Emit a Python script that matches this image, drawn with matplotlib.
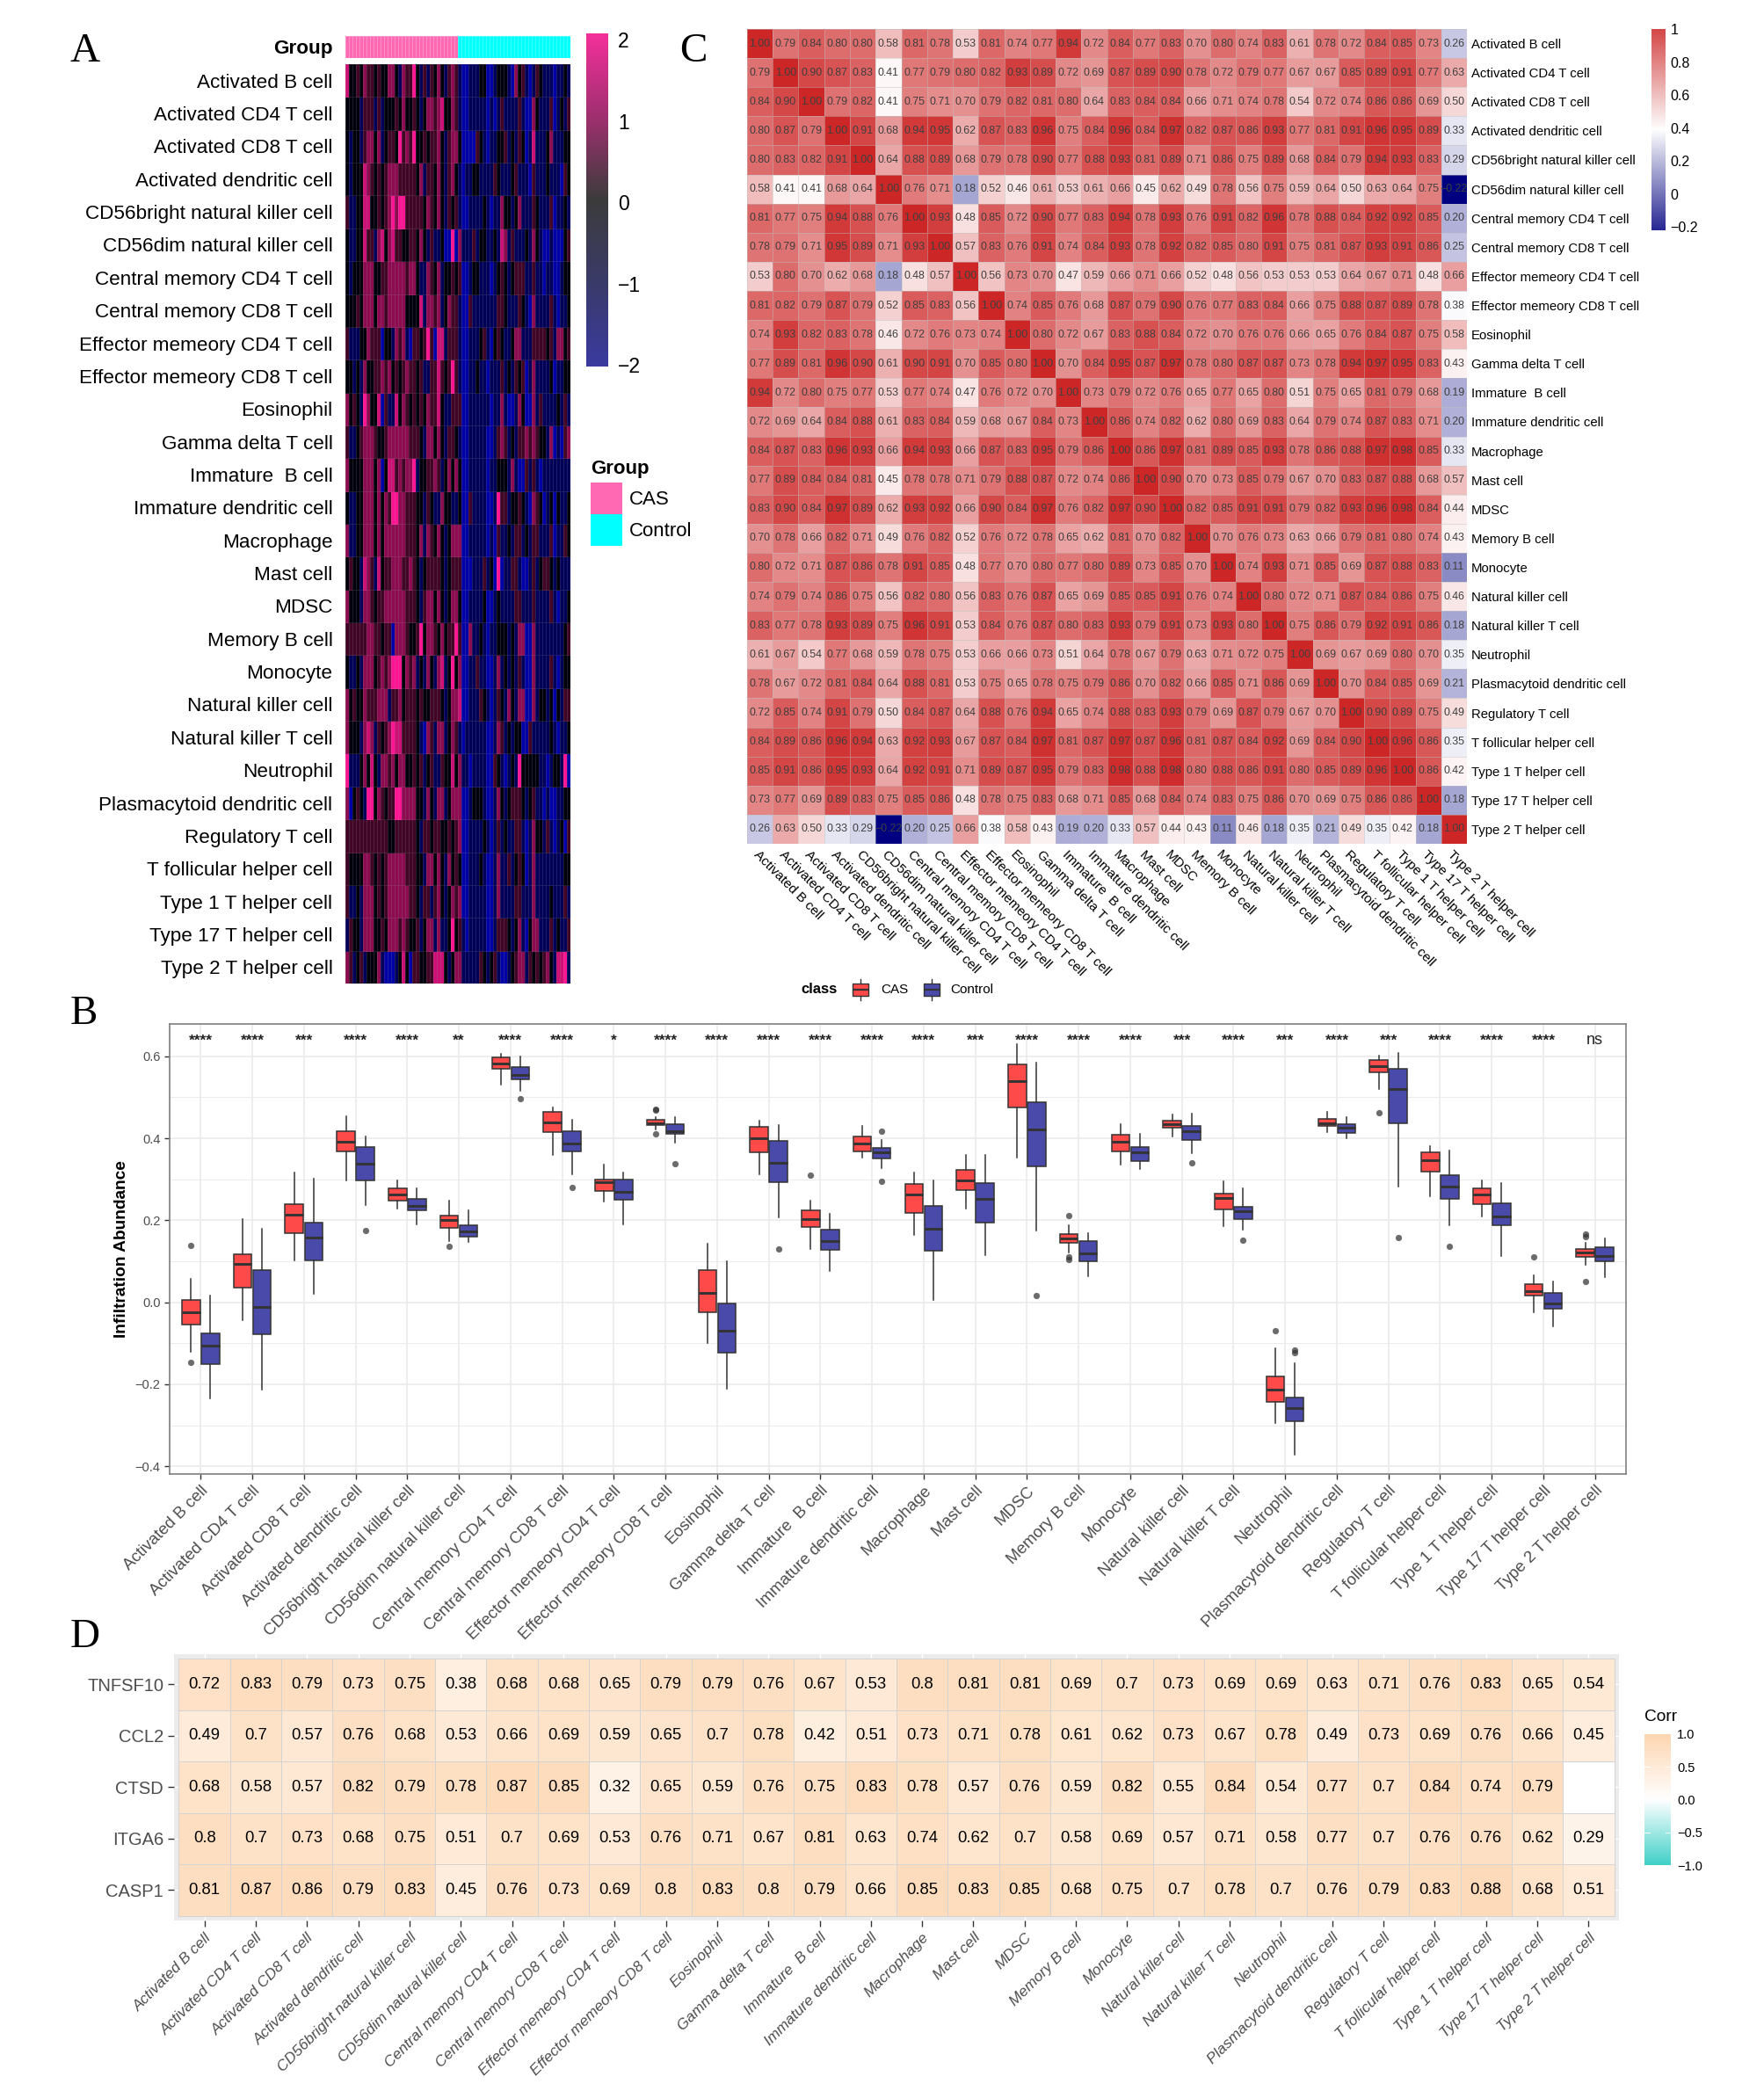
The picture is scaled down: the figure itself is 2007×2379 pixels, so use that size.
import numpy as np
import matplotlib
matplotlib.use("Agg")
import matplotlib.pyplot as plt
from matplotlib.colors import LinearSegmentedColormap, TwoSlopeNorm, Normalize
from matplotlib.patches import Rectangle

W, H = 2008, 2379
plt.rcParams['font.family'] = ['Liberation Sans', 'DejaVu Sans']
fig = plt.figure(figsize=(W / 100, H / 100), dpi=100, facecolor='white')


def ax_px(x0, y0, x1, y1, **kw):
    return fig.add_axes([x0 / W, 1 - y1 / H, (x1 - x0) / W, (y1 - y0) / H], **kw)


CELLS = ["Activated B cell", "Activated CD4 T cell", "Activated CD8 T cell", "Activated dendritic cell",
         "CD56bright natural killer cell", "CD56dim natural killer cell", "Central memory CD4 T cell",
         "Central memory CD8 T cell", "Effector memeory CD4 T cell", "Effector memeory CD8 T cell",
         "Eosinophil", "Gamma delta T cell", "Immature  B cell", "Immature dendritic cell", "Macrophage",
         "Mast cell", "MDSC", "Memory B cell", "Monocyte", "Natural killer cell", "Natural killer T cell",
         "Neutrophil", "Plasmacytoid dendritic cell", "Regulatory T cell", "T follicular helper cell",
         "Type 1 T helper cell", "Type 17 T helper cell", "Type 2 T helper cell"]

# ---------- Panel A: z-scores per sample, read as seven colour levels ----------
LEVELS = {'b': -1.3, 'n': -0.7, 'k': -0.1, 'd': 0.5, 'm': 1.1, 'p': 1.6, 'h': 2.0}
HEAT_CAS = ["pkkdkmdd kdkkmmkn mddhkndn dkmkndmd", "kkkknddd ndnkkkdk mkkdknkm mdmpkkmd",
            "knkkndmm kmnkddkh dmdhkkdk ddmkndmm", "knkkkpmd kdkdmmmd ddddkmnd dkmkndmk",
            "dnnkkppk kdkdmhmh hdddddkm dkmkndkd", "knnkkpdd nmpkmpdd kkddkmkn dnnkbbhb",
            "knkkkmmm kkddmmmm mdmmknnm dkmnkkdk", "kkkdkmmm kmmdmmmm mkkkkpnm mdmnkmdd",
            "dnnnkkmd ddbkknmd mnbddkdh dbppnddd", "kknknmkk ddmdmkdk dmddkdnn ddpdkdhd",
            "mkdknhmk kpbdnnpk mdkdkdkm ddpknndd", "dnnkdmmm dkkdmmmm mmdddknm mkmknddk",
            "mkkkkmmm kmbkppdm dmmhnkkd dmdnkmkm", "knnkkmmm kmkmdhhm mdddkknd knnmkknn",
            "mnnkkmmm kmkmmmmm mdddkmnm dkmknkmm", "kdkknpmd npkddmmm ddmdknkd dddknkdd",
            "mkkknmmd kddmmmmm mdddkndm mkmknkmm", "ddddddmm ddkddbmm mdkkdhkm mdkmkddh",
            "knnknmmm kdmdmhhh kmdmnknm knmpnkhk", "mkdkkmdd dmmmnddm kdddkdkk dddknkmm",
            "mkkknmpm ndkdmhpp ddddknbm dnmmnkmd", "hnnnkmkp knmmdmkm mkkdkdnk dnndkkpk",
            "mbkdknhh kmdkddhh mmmmkknm knmmnkmm", "dddddddd ddddkkdd ddddkndd kddkkdkd",
            "dkkkkmmd kdkdmmmm mdddkknm mkmknmkd", "dnnknmmm kdkdmmmm mmddkndd ndmknkmd",
            "ndkknmmm kkdkmmmd mdkkdnkm mnmnnkhk", "mdnkdnkk kmnbbbnk pkbddkkd dpppknkm"]
HEAT_CTRL = ["nbbnnnkk bbnkkknb mkdnbndk nnnbnnkn", "nbbnnnnn bnbndnnn ndnbbmkn nndbnknd",
             "kbbbbdkn bnnkkdnk ndkbnpnn nkmnnnkk", "nbnnkknn nndknnnk dnnnbdnn nknnnbdk",
             "nbbnnnnk nbnnmkkn kmnnndkn nndbnnkn", "mnnndnkk nnknpmnd nnnknmkn bbnbbbkd",
             "dbbnkknn nbnkdknk dddnndnn bnnbbnkk", "nbbdnnnn nnnddknn ndknbmnn nndnbnnk",
             "nbbnnnkd nbkdknnk mmnnnddd dkdnmmkd", "nbbnnknn bnnndnkn dkdbnmnn nnkbnnkk",
             "dbbnnnnn nbnnmnbb nmkbbmnd nnnnkndn", "nbbnnnnn bbndmdnk nddmdmdk knmbnbdm",
             "kbbnnnnn bnnkkknm nbbdndnb nnnnnnnn", "kbbdnnnn bbnhddnk kdknbmdk bnkbknnk",
             "mbbnnnnn bnbdnnkn ddnknddn nndbnndk", "dbbbnnnd nkbhbnnd dnbbndnk ddknknnn",
             "kbbnnnnk bbnknnnn ddnnndnn nndnbnnk", "dbbmnnkn bnnkkknk nmmbbmnn nnnnnnkd",
             "mbbnndnn bbnmnknk ndnbbmnn nndnbnkk", "pbbnnndk nbndknmk nmmbbmnk knkbkndd",
             "nbnnnnnn bbnmdnkn kkbbdnnn nnknbnnk", "mnnbnnnn bbdknbnk nhkkkkkn nbnkknhb",
             "mbbnkkkn bbnmknkd ddknkdnn bnbbnnkk", "mbbnnnnk nbndnknn ddnbnmkk ndnbnkbd",
             "kbbnnnkn bbnmnndn kdkbnmnn nnnnnnkk", "mbbnnnnn bbnmnnnn ddnnnmnn nnknnndn",
             "dnbnnnnn bbndddkn kmnbkmmn nndnknnd", "mnnnnndk nkdnbbnk dmmndkdk dmknpphn"]

heat = np.array([[LEVELS[c] for c in (a + b).replace(" ", "").ljust(64, 'k')[:64]]
                 for a, b in zip(HEAT_CAS, HEAT_CTRL)])
group_codes = [0] * 32 + [1] * 32

# ---------- Panel C ----------
CORR = [
 [1.00,.79,.84,.80,.80,.58,.81,.78,.53,.81,.74,.77,.94,.72,.84,.77,.83,.70,.80,.74,.83,.61,.78,.72,.84,.85,.73,.26],
 [.79,1.00,.90,.87,.83,.41,.77,.79,.80,.82,.93,.89,.72,.69,.87,.89,.90,.78,.72,.79,.77,.67,.67,.85,.89,.91,.77,.63],
 [.84,.90,1.00,.79,.82,.41,.75,.71,.70,.79,.82,.81,.80,.64,.83,.84,.84,.66,.71,.74,.78,.54,.72,.74,.86,.86,.69,.50],
 [.80,.87,.79,1.00,.91,.68,.94,.95,.62,.87,.83,.96,.75,.84,.96,.84,.97,.82,.87,.86,.93,.77,.81,.91,.96,.95,.89,.33],
 [.80,.83,.82,.91,1.00,.64,.88,.89,.68,.79,.78,.90,.77,.88,.93,.81,.89,.71,.86,.75,.89,.68,.84,.79,.94,.93,.83,.29],
 [.58,.41,.41,.68,.64,1.00,.76,.71,.18,.52,.46,.61,.53,.61,.66,.45,.62,.49,.78,.56,.75,.59,.64,.50,.63,.64,.75,-.22],
 [.81,.77,.75,.94,.88,.76,1.00,.93,.48,.85,.72,.90,.77,.83,.94,.78,.93,.76,.91,.82,.96,.78,.88,.84,.92,.92,.85,.20],
 [.78,.79,.71,.95,.89,.71,.93,1.00,.57,.83,.76,.91,.74,.84,.93,.78,.92,.82,.85,.80,.91,.75,.81,.87,.93,.91,.86,.25],
 [.53,.80,.70,.62,.68,.18,.48,.57,1.00,.56,.73,.70,.47,.59,.66,.71,.66,.52,.48,.56,.53,.53,.53,.64,.67,.71,.48,.66],
 [.81,.82,.79,.87,.79,.52,.85,.83,.56,1.00,.74,.85,.76,.68,.87,.79,.90,.76,.77,.83,.84,.66,.75,.88,.87,.89,.78,.38],
 [.74,.93,.82,.83,.78,.46,.72,.76,.73,.74,1.00,.80,.72,.67,.83,.88,.84,.72,.70,.76,.76,.66,.65,.76,.84,.87,.75,.58],
 [.77,.89,.81,.96,.90,.61,.90,.91,.70,.85,.80,1.00,.70,.84,.95,.87,.97,.78,.80,.87,.87,.73,.78,.94,.97,.95,.83,.43],
 [.94,.72,.80,.75,.77,.53,.77,.74,.47,.76,.72,.70,1.00,.73,.79,.72,.76,.65,.77,.65,.80,.51,.75,.65,.81,.79,.68,.19],
 [.72,.69,.64,.84,.88,.61,.83,.84,.59,.68,.67,.84,.73,1.00,.86,.74,.82,.62,.80,.69,.83,.64,.79,.74,.87,.83,.71,.20],
 [.84,.87,.83,.96,.93,.66,.94,.93,.66,.87,.83,.95,.79,.86,1.00,.86,.97,.81,.89,.85,.93,.78,.86,.88,.97,.98,.85,.33],
 [.77,.89,.84,.84,.81,.45,.78,.78,.71,.79,.88,.87,.72,.74,.86,1.00,.90,.70,.73,.85,.79,.67,.70,.83,.87,.88,.68,.57],
 [.83,.90,.84,.97,.89,.62,.93,.92,.66,.90,.84,.97,.76,.82,.97,.90,1.00,.82,.85,.91,.91,.79,.82,.93,.96,.98,.84,.44],
 [.70,.78,.66,.82,.71,.49,.76,.82,.52,.76,.72,.78,.65,.62,.81,.70,.82,1.00,.70,.76,.73,.63,.66,.79,.81,.80,.74,.43],
 [.80,.72,.71,.87,.86,.78,.91,.85,.48,.77,.70,.80,.77,.80,.89,.73,.85,.70,1.00,.74,.93,.71,.85,.69,.87,.88,.83,.11],
 [.74,.79,.74,.86,.75,.56,.82,.80,.56,.83,.76,.87,.65,.69,.85,.85,.91,.76,.74,1.00,.80,.72,.71,.87,.84,.86,.75,.46],
 [.83,.77,.78,.93,.89,.75,.96,.91,.53,.84,.76,.87,.80,.83,.93,.79,.91,.73,.93,.80,1.00,.75,.86,.79,.92,.91,.86,.18],
 [.61,.67,.54,.77,.68,.59,.78,.75,.53,.66,.66,.73,.51,.64,.78,.67,.79,.63,.71,.72,.75,1.00,.69,.67,.69,.80,.70,.35],
 [.78,.67,.72,.81,.84,.64,.88,.81,.53,.75,.65,.78,.75,.79,.86,.70,.82,.66,.85,.71,.86,.69,1.00,.70,.84,.85,.69,.21],
 [.72,.85,.74,.91,.79,.50,.84,.87,.64,.88,.76,.94,.65,.74,.88,.83,.93,.79,.69,.87,.79,.67,.70,1.00,.90,.89,.75,.49],
 [.84,.89,.86,.96,.94,.63,.92,.93,.67,.87,.84,.97,.81,.87,.97,.87,.96,.81,.87,.84,.92,.69,.84,.90,1.00,.96,.86,.35],
 [.85,.91,.86,.95,.93,.64,.92,.91,.71,.89,.87,.95,.79,.83,.98,.88,.98,.80,.88,.86,.91,.80,.85,.89,.96,1.00,.86,.42],
 [.73,.77,.69,.89,.83,.75,.85,.86,.48,.78,.75,.83,.68,.71,.85,.68,.84,.74,.83,.75,.86,.70,.69,.75,.86,.86,1.00,.18],
 [.26,.63,.50,.33,.29,-.22,.20,.25,.66,.38,.58,.43,.19,.20,.33,.57,.44,.43,.11,.46,.18,.35,.21,.49,.35,.42,.18,1.00]]

# ---------- Panel B: low, q1, median, q3, high ----------
BOX_CAS = [[-.120,-.054,-.025,.006,.058],[-.044,.036,.093,.118,.202],[.103,.169,.213,.239,.316],[.298,.368,.391,.417,.454],
           [.229,.248,.263,.277,.298],[.150,.182,.201,.212,.248],[.531,.570,.583,.597,.607],[.360,.415,.439,.464,.476],
           [.245,.272,.294,.300,.336],[.422,.433,.437,.446,.452],[-.099,-.024,.022,.079,.143],[.312,.367,.400,.428,.444],
           [.129,.183,.202,.224,.248],[.353,.368,.388,.405,.431],[.165,.218,.263,.289,.317],[.229,.274,.298,.323,.359],
           [.354,.475,.540,.581,.630],[.122,.144,.156,.167,.187],[.336,.369,.392,.409,.434],[.404,.425,.435,.444,.459],
           [.185,.227,.254,.266,.296],[-.295,-.244,-.214,-.182,-.112],[.415,.430,.437,.447,.464],[.521,.561,.577,.591,.602],
           [.258,.318,.346,.366,.380],[.209,.239,.263,.279,.298],[-.024,.016,.028,.045,.065],[.091,.111,.121,.130,.146]]
BOX_CTRL = [[-.234,-.150,-.106,-.075,.017],[-.214,-.078,-.011,.078,.180],[.020,.102,.158,.195,.301],[.238,.298,.337,.379,.405],
            [.190,.224,.235,.252,.278],[.147,.160,.174,.187,.224],[.516,.543,.555,.573,.600],[.312,.368,.387,.418,.446],
            [.190,.251,.269,.299,.317],[.390,.411,.418,.435,.452],[-.212,-.124,-.070,-.004,.101],[.208,.292,.340,.393,.432],
            [.076,.128,.150,.178,.215],[.328,.350,.365,.377,.396],[.005,.126,.179,.235,.298],[.114,.195,.252,.291,.359],
            [.176,.332,.422,.489,.584],[.064,.101,.120,.150,.168],[.326,.345,.365,.378,.411],[.363,.397,.417,.431,.460],
            [.178,.204,.223,.234,.277],[-.371,-.291,-.259,-.233,-.149],[.401,.414,.425,.434,.452],[.283,.436,.521,.570,.609],
            [.188,.252,.283,.310,.371],[.112,.187,.210,.242,.291],[-.059,-.015,-.004,.023,.050],[.062,.100,.112,.135,.156]]
OUT_CAS = {0: [.139, -.147], 5: [.136], 9: [.468, .471, .411], 12: [.311], 17: [.212, .110, .104], 21: [-.070],
           23: [.462], 26: [.110], 27: [.167, .161, .050]}
OUT_CTRL = {3: [.175], 6: [.496], 7: [.280], 9: [.337], 11: [.131], 13: [.417, .296], 16: [.017], 19: [.341],
            20: [.151], 21: [-.116, -.123], 23: [.158], 24: [.137]}
SIG = ["****", "****", "***", "****", "****", "**", "****", "****", "*", "****", "****", "****", "****", "****",
       "****", "***", "****", "****", "****", "***", "****", "***", "****", "***", "****", "****", "****", "ns"]

# ---------- Panel D ----------
GENES = ["TNFSF10", "CCL2", "CTSD", "ITGA6", "CASP1"]
TNFSF10 = [.72,.83,.79,.73,.75,.38,.68,.68,.65,.79,.79,.76,.67,.53,.8,.81,.81,.69,.7,.73,.69,.69,.63,.71,.76,.83,.65,.54]
CCL2 = [.49,.7,.57,.76,.68,.53,.66,.69,.59,.65,.7,.78,.42,.51,.73,.71,.78,.61,.62,.73,.67,.78,.49,.73,.69,.76,.66,.45]
CTSD = [.68,.58,.57,.82,.79,.78,.87,.85,.32,.65,.59,.76,.75,.83,.78,.57,.76,.59,.82,.55,.84,.54,.77,.7,.84,.74,.79,np.nan]
ITGA6 = [.8,.7,.73,.68,.75,.51,.7,.69,.53,.76,.71,.67,.81,.63,.74,.62,.7,.58,.69,.57,.71,.58,.77,.7,.76,.76,.62,.29]
CASP1 = [.81,.87,.86,.79,.83,.45,.76,.73,.69,.8,.83,.8,.79,.66,.85,.83,.85,.68,.75,.7,.78,.7,.76,.79,.83,.88,.68,.51]

# ---------- draw panel A ----------
GREY30 = '#4D4D4D'
cm_a = LinearSegmentedColormap.from_list('a', ['#0000FF', '#000000', '#FF1493'])
ax = ax_px(393, 73, 649, 1119)
ax.pcolormesh(heat[::-1], cmap=cm_a, vmin=-2, vmax=2, edgecolors=(0.6, 0.6, 0.6, 0.2), linewidth=0.5)
ax.set_xticks([])
ax.set_yticks(np.arange(28) + .5, CELLS[::-1], fontsize=16.2, color='black')
ax.tick_params(axis='y', length=0, pad=10.5)
for s in ax.spines.values():
    s.set_visible(False)

ax = ax_px(393, 41, 649, 66)
ax.pcolormesh(np.array([group_codes]), cmap=LinearSegmentedColormap.from_list('g', ['#FF69B4', '#00FFFF']),
              edgecolors=(1, 1, 1, 0.25), linewidth=0.5)
ax.set_xticks([])
ax.set_yticks([.5], ['Group'], fontsize=16.2, fontweight='bold')
ax.tick_params(axis='y', length=0, pad=10.5)
for s in ax.spines.values():
    s.set_visible(False)

cax = ax_px(667, 38, 692, 417)
cm_a2 = LinearSegmentedColormap.from_list('a2', ['#3A3AA0', '#3A3A6A', '#3C3C3C', '#A03070', '#F52F9B'])
cax.imshow(np.linspace(2.08, -2.02, 256)[:, None], cmap=cm_a2, aspect='auto', vmin=-2.02, vmax=2.08,
           extent=[0, 1, -2.02, 2.08])
cax.set_xticks([])
cax.yaxis.tick_right()
cax.set_yticks([-2, -1, 0, 1, 2], ['\u22122', '\u22121', '0', '1', '2'], fontsize=16.5)
cax.tick_params(axis='y', length=0, pad=8)
for s in cax.spines.values():
    s.set_visible(False)

# ---------- draw panel C ----------
cm_c = LinearSegmentedColormap.from_list('c', ['#000080', '#FFFFFF', '#CD2626'])
norm_c = TwoSlopeNorm(vmin=-.22, vcenter=.39, vmax=1)
corr = np.array(CORR)
ax = ax_px(850, 33, 1669, 960)
ax.pcolormesh(corr, cmap=cm_c, norm=norm_c, edgecolors=(.75, .75, .75, .45), linewidth=0.5)
ax.set_xlim(0, 28)
ax.set_ylim(28, 0)
for i in range(28):
    for j in range(28):
        ax.text(j + .5, i + .5, f"{corr[i, j]:.2f}".replace('-', '\u2212'), ha='center', va='center',
                fontsize=8.9, color='#3F3F3F')
ax.yaxis.tick_right()
ax.set_yticks(np.arange(28) + .5, CELLS, fontsize=10.7)
ax.set_xticks(np.arange(28) + .5, CELLS, fontsize=11, rotation=-45, ha='left', va='top', rotation_mode='anchor')
ax.tick_params(axis='both', length=0, pad=3.5)
for s in ax.spines.values():
    s.set_visible(False)

cax = ax_px(1879, 33, 1895, 262)
cax.imshow(np.linspace(1, -.22, 256)[:, None], cmap=cm_c, norm=norm_c, aspect='auto', extent=[0, 1, -.22, 1], alpha=.85)
cax.set_xticks([])
cax.yaxis.tick_right()
cax.set_yticks([-.2, 0, .2, .4, .6, .8, 1], ['\u22120.2', '0', '0.2', '0.4', '0.6', '0.8', '1'], fontsize=11.5)
cax.tick_params(axis='y', length=0, pad=4)
for s in cax.spines.values():
    s.set_visible(False)

# ---------- draw panel B ----------
ax = ax_px(193, 1165.5, 1850, 1677)
RED = (1, .29, .29)
BLUE = (.29, .29, .67)
positions = np.arange(1, 29)


def draw_box(stats, outs, offset, colour):
    items = [dict(whislo=s[0], q1=s[1], med=s[2], q3=s[3], whishi=s[4], fliers=outs.get(i, []))
             for i, s in enumerate(stats)]
    ax.bxp(items, positions=positions + offset, widths=.35, patch_artist=True, showcaps=False,
           boxprops=dict(facecolor=colour, edgecolor='#333333', linewidth=1.1),
           medianprops=dict(color='#333333', linewidth=2.1, solid_capstyle='butt'),
           whiskerprops=dict(color='#333333', linewidth=1.1),
           flierprops=dict(marker='o', markerfacecolor='#333333', markeredgecolor='none', markersize=5.2, alpha=.72),
           manage_ticks=False, zorder=3)


draw_box(BOX_CAS, OUT_CAS, -.1875, RED)
draw_box(BOX_CTRL, OUT_CTRL, .1875, BLUE)
ax.set_xlim(.4, 28.6)
ax.set_ylim(-.419, .678)
ax.set_xticks(positions, CELLS, fontsize=13.5, rotation=45, ha='right', va='top', rotation_mode='anchor', color=GREY30)
ax.set_yticks([-.4, -.2, 0, .2, .4, .6], ['\u22120.4', '\u22120.2', '0.0', '0.2', '0.4', '0.6'], fontsize=10.5, color=GREY30)
ax.set_yticks([-.3, -.1, .1, .3, .5], minor=True)
ax.tick_params(axis='both', which='major', color='#333333', length=4, width=1)
ax.tick_params(axis='y', which='minor', length=0)
ax.grid(True, which='major', color='#EBEBEB', linewidth=1.2)
ax.grid(True, which='minor', axis='y', color='#EBEBEB', linewidth=.7)
ax.set_axisbelow(True)
for s in ax.spines.values():
    s.set_color('#7F7F7F')
    s.set_linewidth(1.2)
ax.set_ylabel('Infiltration Abundance', fontsize=13.8, fontweight='bold', labelpad=5)
trans = ax.get_xaxis_transform()
for p, lab in zip(positions, SIG):
    ax.text(p, 1 - (1184 - 1165.5) / 511.5, lab, transform=trans, ha='center', va='center',
            fontsize=13 if lab == 'ns' else 12.5, fontweight='bold' if lab != 'ns' else 'normal', color='#222222')

# ---------- draw panel D ----------
cm_d = LinearSegmentedColormap.from_list('d', ['#40D0C8', '#FFFFFF', '#FDD6B1'])
cm_d.set_bad('white')
corr_d = np.ma.masked_invalid(np.array([TNFSF10, CCL2, CTSD, ITGA6, CASP1]))
ax = ax_px(198, 1881.6, 1842, 2185)
ax.set_facecolor('#EBEBEB')
ax.pcolormesh(np.arange(29) + .5, np.arange(6) + .5, corr_d, cmap=cm_d, norm=Normalize(-1, 1),
              edgecolors='#D3D3D3', linewidth=.7, zorder=2)
ax.set_xlim(.406, 28.594)
ax.set_ylim(5.594, .406)
for i in range(5):
    for j in range(28):
        v = corr_d[i, j]
        if v is not np.ma.masked:
            ax.text(j + 1, i + 1, f"{v:g}", ha='center', va='center', fontsize=13.3, color='black', zorder=3)
ax.set_xticks(np.arange(1, 29), CELLS, fontsize=12.4, style='italic', rotation=45, ha='right', va='top',
              rotation_mode='anchor', color=GREY30)
ax.set_yticks(np.arange(1, 6), GENES, fontsize=14.5, color=GREY30)
ax.tick_params(axis='both', color='#333333', length=5, width=1)
ax.grid(True, color='white', linewidth=1, zorder=1)
ax.set_axisbelow(True)
for s in ax.spines.values():
    s.set_visible(False)

cax = ax_px(1871, 1973, 1901, 2122)
cax.imshow(np.linspace(1, -1, 256)[:, None], cmap=cm_d, norm=Normalize(-1, 1), aspect='auto', extent=[0, 1, -1, 1])
cax.set_xticks([])
cax.yaxis.tick_right()
cax.set_yticks([-1, -.5, 0, .5, 1], ['\u22121.0', '\u22120.5', '0.0', '0.5', '1.0'], fontsize=10.5)
cax.tick_params(axis='y', length=0, pad=5)
for v in (-.5, 0, .5):
    cax.plot([0, .2], [v, v], color='white', lw=.7)
    cax.plot([.8, 1], [v, v], color='white', lw=.7)
cax.set_xlim(0, 1)
cax.set_ylim(-1, 1)
for s in cax.spines.values():
    s.set_visible(False)

# ---------- free text and legends in pixel space ----------
ov = fig.add_axes([0, 0, 1, 1], zorder=10)
ov.set_xlim(0, W)
ov.set_ylim(H, 0)
ov.axis('off')
ov.patch.set_alpha(0)
for lab, x, y in (("A", 80, 70), ("C", 773, 70), ("B", 80, 1165), ("D", 80, 1874)):
    ov.text(x, y, lab, family='Liberation Serif', fontsize=34, ha='left', va='baseline', color='black')

ov.text(672, 533, 'Group', fontsize=16, fontweight='bold', va='center')
ov.add_patch(Rectangle((672, 549), 36, 36, facecolor='#FF69B4', edgecolor='none'))
ov.add_patch(Rectangle((672, 585), 36, 36, facecolor='#00FFFF', edgecolor='none'))
ov.text(716, 568, 'CAS', fontsize=16, va='center')
ov.text(716, 605, 'Control', fontsize=16, va='center')

ov.text(911, 1126, 'class', fontsize=12, fontweight='bold', va='center')
for x0, col, lab, tx in ((968, RED, 'CAS', 1002), (1049, BLUE, 'Control', 1081)):
    ov.add_patch(Rectangle((x0 + 2, 1119), 18, 14, facecolor=col, edgecolor='#333333', linewidth=1))
    ov.plot([x0 + 2, x0 + 20], [1126, 1126], color='#333333', lw=1.6, solid_capstyle='butt')
    ov.plot([x0 + 11, x0 + 11], [1114, 1119], color='#333333', lw=1)
    ov.plot([x0 + 11, x0 + 11], [1133, 1138], color='#333333', lw=1)
    ov.text(tx, 1126, lab, fontsize=11, va='center')

ov.text(1871, 1954, 'Corr', fontsize=13.8, va='center')

fig.savefig('out.png', dpi=100, facecolor='white')
